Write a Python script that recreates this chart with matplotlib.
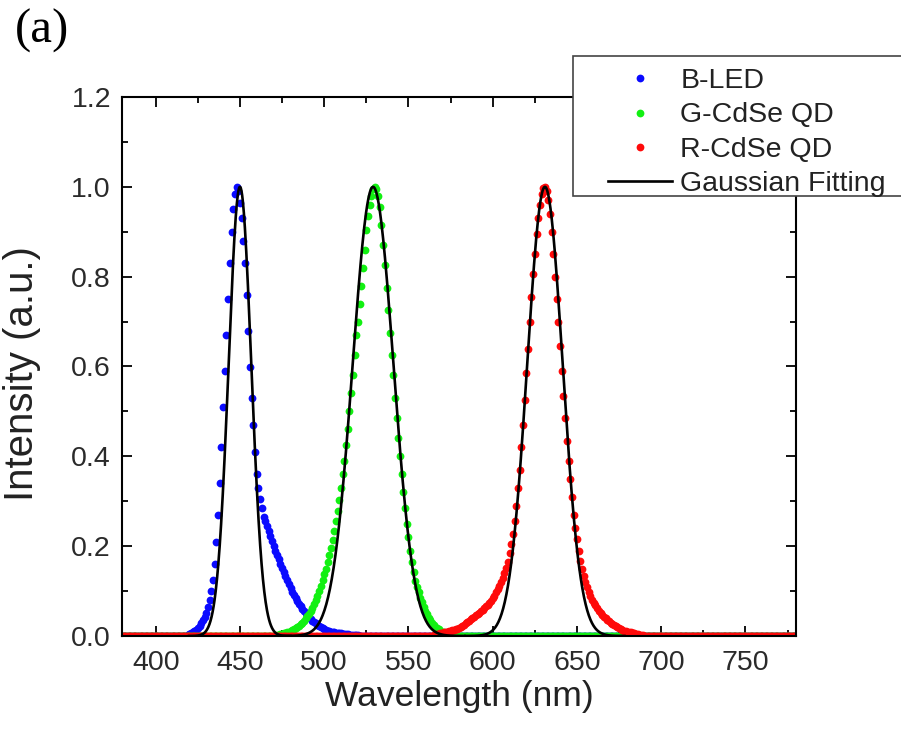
import matplotlib.pyplot as plt
import numpy as np
from matplotlib.patches import Rectangle
from matplotlib.ticker import FormatStrFormatter, MultipleLocator

plt.rcParams["font.family"] = ["Liberation Sans", "DejaVu Sans"]

# 1 nm sampling grid of the spectrometer
wavelength = np.arange(380, 781)

# normalised emission spectra, listed from their first non-zero sample
blue_start = 418
blue_values = [
    0.0, 0.002, 0.004, 0.006, 0.008, 0.011, 0.014, 0.018, 0.022, 0.028,
    0.035, 0.043, 0.052, 0.065, 0.08, 0.1, 0.125, 0.16, 0.21, 0.27,
    0.34, 0.42, 0.51, 0.59, 0.67, 0.75, 0.83, 0.9, 0.95, 0.985,
    1.0, 0.99, 0.965, 0.93, 0.88, 0.83, 0.76, 0.68, 0.6, 0.53,
    0.47, 0.41, 0.36, 0.33, 0.305, 0.285, 0.265, 0.255, 0.244, 0.233,
    0.222, 0.211, 0.2, 0.19, 0.18, 0.171, 0.161, 0.152, 0.143, 0.134,
    0.125, 0.116, 0.107, 0.099, 0.092, 0.085, 0.078, 0.072, 0.066, 0.06,
    0.055, 0.051, 0.046, 0.042, 0.038, 0.034, 0.031, 0.028, 0.025, 0.022,
    0.02, 0.017, 0.015, 0.013, 0.012, 0.011, 0.01, 0.009, 0.008, 0.007,
    0.007, 0.006, 0.006, 0.005, 0.005, 0.004, 0.004, 0.003, 0.003, 0.003,
    0.002, 0.002, 0.002,
]

green_start = 472
green_values = [
    0.002, 0.003, 0.004, 0.005, 0.006, 0.007, 0.008, 0.01, 0.011, 0.013,
    0.015, 0.017, 0.02, 0.023, 0.026, 0.03, 0.034, 0.039, 0.044, 0.05,
    0.056, 0.063, 0.071, 0.08, 0.09, 0.1, 0.112, 0.124, 0.137, 0.15,
    0.165, 0.18, 0.197, 0.214, 0.233, 0.255, 0.278, 0.303, 0.33, 0.36,
    0.39, 0.425, 0.46, 0.5, 0.54, 0.58, 0.625, 0.67, 0.7, 0.74,
    0.78, 0.82, 0.86, 0.905, 0.935, 0.96, 0.98, 0.995, 1.0, 0.995,
    0.98, 0.955, 0.915, 0.87, 0.825, 0.775, 0.725, 0.675, 0.625, 0.58,
    0.53, 0.485, 0.44, 0.4, 0.36, 0.32, 0.285, 0.25, 0.22, 0.19,
    0.165, 0.142, 0.122, 0.11, 0.097, 0.085, 0.075, 0.065, 0.056, 0.048,
    0.041, 0.035, 0.03, 0.025, 0.021, 0.018, 0.015, 0.012, 0.01, 0.008,
    0.007, 0.006, 0.005, 0.004, 0.003, 0.002, 0.001,
]

red_start = 565
red_values = [
    0.002, 0.003, 0.004, 0.005, 0.006, 0.007, 0.008, 0.009, 0.01, 0.011,
    0.012, 0.013, 0.014, 0.015, 0.016, 0.018, 0.02, 0.022, 0.025, 0.028,
    0.031, 0.034, 0.037, 0.04, 0.043, 0.046, 0.049, 0.052, 0.055, 0.058,
    0.062, 0.066, 0.07, 0.074, 0.079, 0.084, 0.09, 0.097, 0.104, 0.112,
    0.121, 0.13, 0.14, 0.151, 0.165, 0.185, 0.205, 0.228, 0.255, 0.29,
    0.33, 0.37, 0.42, 0.47, 0.525, 0.585, 0.64, 0.7, 0.755, 0.805,
    0.85, 0.895, 0.93, 0.96, 0.985, 0.998, 1.0, 0.99, 0.97, 0.94,
    0.9, 0.85, 0.8, 0.75, 0.7, 0.645, 0.59, 0.535, 0.485, 0.435,
    0.39, 0.35, 0.31, 0.27, 0.24, 0.215, 0.19, 0.168, 0.15, 0.134,
    0.12, 0.108, 0.098, 0.089, 0.081, 0.074, 0.068, 0.062, 0.056, 0.051,
    0.047, 0.043, 0.039, 0.036, 0.033, 0.03, 0.027, 0.025, 0.022, 0.02,
    0.018, 0.016, 0.014, 0.012, 0.011, 0.01, 0.009, 0.008, 0.007, 0.006,
    0.005, 0.004, 0.003, 0.002, 0.002, 0.001,
]

series_labels = ["B-LED", "G-CdSe QD", "R-CdSe QD"]
series_colors = ["#0a0aff", "#12f012", "#ff0a0a"]

# Gaussian fit parameters: peak position and FWHM (nm)
fit_centers = [450.0, 529.0, 631.0]
fit_fwhm = [15.8, 28.4, 24.7]


def spectrum(start, values):
    out = np.zeros(len(wavelength))
    i = start - wavelength[0]
    out[i:i + len(values)] = values
    return out


spectra = [
    spectrum(blue_start, blue_values),
    spectrum(green_start, green_values),
    spectrum(red_start, red_values),
]

fig = plt.figure(figsize=(9.01, 7.36), dpi=100)
ax = fig.add_axes([122 / 901, 100 / 736, 674 / 901, 539 / 736])

handles = []
for values, label, color in zip(spectra, series_labels, series_colors):
    (h,) = ax.plot(wavelength, values, "o", ms=5.6, mec="none", mfc=color,
                   label=label, zorder=2)
    handles.append(h)

for center, fwhm in zip(fit_centers, fit_fwhm):
    sigma = fwhm / (2 * np.sqrt(2 * np.log(2)))
    x = np.linspace(center - 4.5 * sigma, center + 4.5 * sigma, 300)
    (fit_line,) = ax.plot(x, np.exp(-0.5 * ((x - center) / sigma) ** 2),
                          color="black", lw=1.9, zorder=3)
fit_line.set_label("Gaussian Fitting")
handles.append(fit_line)

ax.set_xlim(380, 780)
ax.set_ylim(0, 1.2)
ax.xaxis.set_major_locator(MultipleLocator(50))
ax.xaxis.set_minor_locator(MultipleLocator(25))
ax.yaxis.set_major_locator(MultipleLocator(0.2))
ax.yaxis.set_minor_locator(MultipleLocator(0.1))
ax.yaxis.set_major_formatter(FormatStrFormatter("%.1f"))
ax.set_xticks([400, 450, 500, 550, 600, 650, 700, 750])

ax.tick_params(which="both", direction="in", top=True, right=True,
               width=1.3, colors="black", labelcolor="#2a2a2a", labelsize=20.5)
ax.tick_params(which="major", length=7)
ax.tick_params(which="minor", length=4)
ax.tick_params(axis="x", pad=10)
ax.tick_params(axis="y", pad=8)
for spine in ax.spines.values():
    spine.set_linewidth(1.5)

ax.set_xlabel("Wavelength (nm)", fontsize=25.5, color="#222222")
ax.set_ylabel("Intensity (a.u.)", fontsize=29, color="#222222")
ax.xaxis.set_label_coords(0.5, -0.082)
ax.yaxis.set_label_coords(-0.12, 0.486)

# legend box sits over the top-right corner of the frame
fig.add_artist(Rectangle((573 / 901, 1 - 196 / 736), 0.5, 140 / 736,
                         transform=fig.transFigure, facecolor="white",
                         edgecolor="#444444", lw=1.2, zorder=4))
fig.legend(handles=handles, loc="upper left",
           bbox_to_anchor=(594 / 901, 1 - 54 / 736), frameon=False,
           fontsize=20.5, handlelength=2.25, handletextpad=0.28,
           labelspacing=0.29, borderpad=0.0, markerscale=1.0,
           labelcolor="#222222").set_zorder(5)

fig.text(15 / 901, 1 - 43 / 736, "(a)", fontsize=35,
         family=["Liberation Serif", "DejaVu Serif"], va="baseline")

fig.savefig("out.png", dpi=100)
